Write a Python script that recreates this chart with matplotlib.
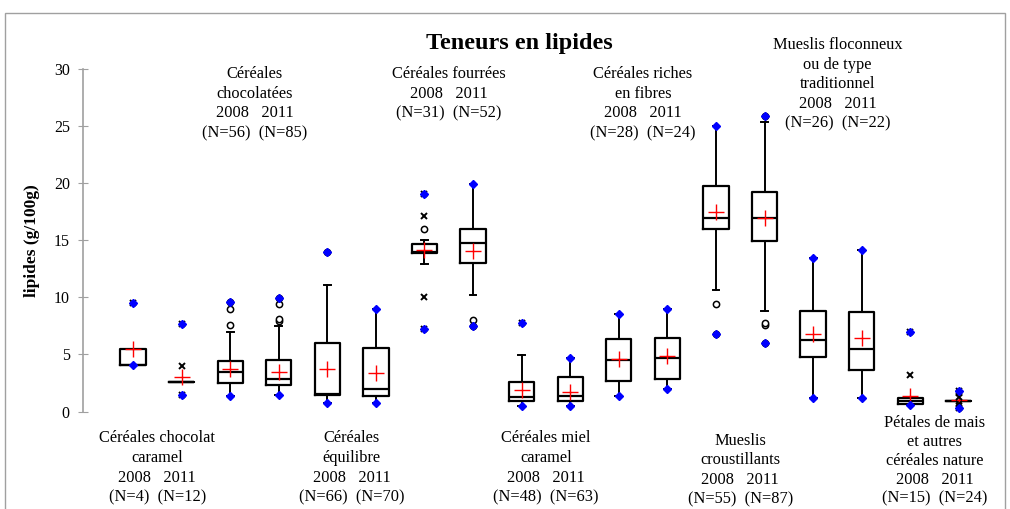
import matplotlib.pyplot as plt
from matplotlib.patches import Rectangle

# Box statistics (lipides, g/100g), 2008 / 2011 pairs
q1 = [4.05, 2.57, 2.48, 2.34, 1.46, 1.35, 13.92, 12.98, 0.96, 0.88,
      2.66, 2.81, 15.99, 14.94, 4.80, 3.65, 0.67, 0.96]
med = [4.10, 2.57, 3.48, 2.87, 1.55, 1.99, 14.00, 14.80, 1.26, 1.37,
       4.47, 4.71, 16.99, 16.99, 6.29, 5.50, 0.90, 0.96]
q3 = [5.44, 2.57, 4.41, 4.50, 6.00, 5.56, 14.65, 16.00, 2.60, 3.01,
      6.38, 6.43, 19.77, 19.24, 8.80, 8.71, 1.20, 0.96]
whislo = [4.05, 2.57, 1.35, 1.43, 0.73, 0.73, 12.89, 10.18, 0.44, 0.44,
          1.37, 1.96, 10.67, 8.77, 1.17, 1.17, 0.59, 0.96]
whishi = [5.44, 2.57, 6.99, 7.49, 11.08, 9.00, 15.00, 19.94, 4.97, 4.71,
          8.50, 9.00, 25.03, 25.35, 13.42, 14.12, 1.20, 0.96]
means = [5.50, 3.04, 3.71, 3.48, 3.68, 3.36, 14.12, 14.10, 1.84, 1.75,
         4.62, 4.82, 17.49, 16.93, 6.81, 6.46, 1.40, 0.98]
ymin = [4.06, 1.46, 1.35, 1.43, 0.73, 0.73, 7.25, 7.50, 0.44, 0.44,
        1.37, 1.96, 6.75, 6.00, 1.17, 1.17, 0.59, 0.35]
ymax = [9.50, 7.70, 9.59, 9.90, 14.00, 9.00, 19.06, 19.94, 7.78, 4.71,
        8.50, 9.00, 25.03, 25.85, 13.42, 14.12, 6.99, 1.78]
# moderate outliers (open circles) and extreme outliers (crosses)
mild = [[], [], [7.54, 9.0, 9.59], [7.9, 8.1, 9.41, 9.9], [14.0], [],
        [16.0], [8.04, 7.5], [], [], [], [], [9.44, 6.75],
        [7.57, 7.78, 6.0, 25.85], [], [], [], []]
extreme = [[9.5], [4.0, 7.7, 1.46], [], [], [], [], [17.1, 19.06, 10.03, 7.25],
           [], [7.78], [], [], [], [], [], [], [], [3.16, 6.99],
           [1.78, 1.6, 1.3, 0.7, 0.5, 0.35]]

categories = [
    "Céréales chocolat\ncaramel",
    "Céréales\nchocolatées",
    "Céréales\néquilibre",
    "Céréales fourrées",
    "Céréales miel\ncaramel",
    "Céréales riches\nen fibres",
    "Mueslis\ncroustillants",
    "Mueslis floconneux\nou de type\ntraditionnel",
    "Pétales de mais\net autres\ncéréales nature",
]
counts = [("4", "12"), ("56", "85"), ("66", "70"), ("31", "52"), ("48", "63"),
          ("28", "24"), ("55", "87"), ("26", "22"), ("15", "24")]
label_y = [-1.65, 30.25, -1.65, 30.25, -1.65, 30.25, -1.85, 32.8, -0.3]
label_sp = [1.3, 1.3, 1.3, 1.3, 1.3, 1.3, 1.3, 1.3, 1.24]

plt.rcParams["font.family"] = ["Liberation Serif", "DejaVu Serif"]

fig = plt.figure(figsize=(10.10, 5.09), dpi=100)
ax = fig.add_axes([83 / 1010, (509 - 411.5) / 509, 922 / 1010, 342.5 / 509])

positions = list(range(1, len(q1) + 1))
stats = []
for i in range(len(q1)):
    stats.append(dict(q1=q1[i], med=med[i], q3=q3[i], whislo=whislo[i],
                      whishi=whishi[i], mean=means[i], fliers=[]))

ax.bxp(stats, positions=positions, widths=0.52, showfliers=False,
       showmeans=True, capwidths=0.14,
       boxprops=dict(color="black", linewidth=1.6),
       medianprops=dict(color="black", linewidth=1.6),
       whiskerprops=dict(color="black", linewidth=1.4),
       capprops=dict(color="black", linewidth=1.4),
       meanprops=dict(marker="+", markeredgecolor="red", markersize=11,
                      markeredgewidth=1.0))

for i, p in enumerate(positions):
    if mild[i]:
        ax.plot([p] * len(mild[i]), mild[i], "o", mfc="white", mec="black",
                ms=4.5, mew=1.1, clip_on=False, zorder=3)
    if extreme[i]:
        ax.plot([p] * len(extreme[i]), extreme[i], "x", color="black",
                ms=5, mew=1.4, clip_on=False, zorder=3)
    ax.plot([p, p], [ymin[i], ymax[i]], "D", color="#0000ff", ms=4.2,
            clip_on=False, zorder=4)

ax.set_ylim(0, 30)
ax.set_xlim(-0.03, 18.95)
ax.set_yticks(range(0, 31, 5))
ax.tick_params(axis="y", direction="inout", length=7, color="#a0a0a0",
               labelsize=11.5, pad=6)
ax.set_xticks([])
for side in ["top", "right", "bottom"]:
    ax.spines[side].set_visible(False)
ax.spines["left"].set_color("#a0a0a0")
ax.spines["left"].set_linewidth(1.2)
ax.set_ylabel("lipides (g/100g)", fontsize=12.5, fontweight="bold", labelpad=10)

for k, cat in enumerate(categories):
    n08, n11 = counts[k]
    txt = cat + "\n2008   2011\n(N=" + n08 + ")  (N=" + n11 + ")"
    ax.text(2 * k + 1.5, label_y[k], txt, ha="center", va="top", fontsize=11.8,
            linespacing=label_sp[k], clip_on=False)

fig.text(519 / 1010, 1 - 44 / 509, "Teneurs en lipides", ha="center",
         va="center", fontsize=17.5, fontweight="bold")

fig.patches.append(Rectangle((5 / 1010, -0.01), 1000 / 1010, 1 - 13 / 509 + 0.01,
                             transform=fig.transFigure, fill=False,
                             edgecolor="#a0a0a0", linewidth=1.0))

fig.savefig("out.png", dpi=100)
